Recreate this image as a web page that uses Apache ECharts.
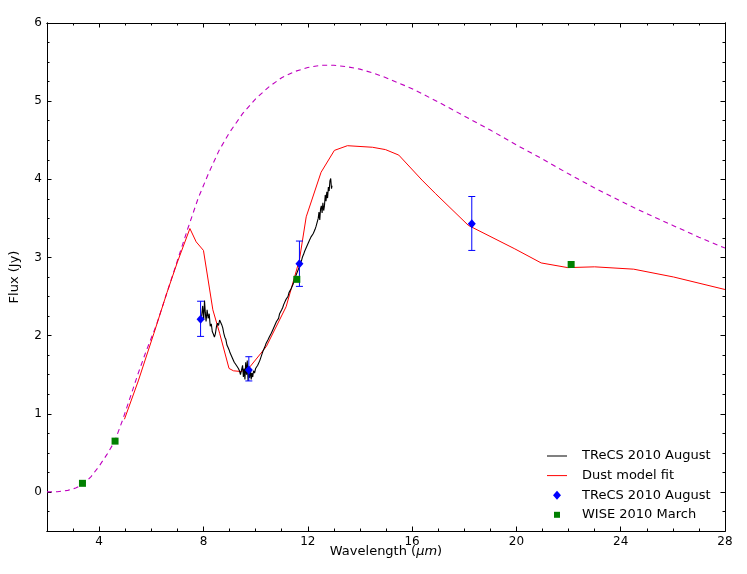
<!DOCTYPE html>
<html>
<head>
<meta charset="utf-8">
<script src="https://cdn.jsdelivr.net/npm/echarts@6/dist/echarts.min.js"></script>
<style>
  html, body { margin: 0; padding: 0; background: #fff; }
  #chart { width: 747px; height: 574px; }
</style>
</head>
<body>
<div id="chart"></div>
<script>
// tick labels
const xMajor = [4, 8, 12, 16, 20, 24, 28];
const yMajor = [0, 1, 2, 3, 4, 5, 6];

// blackbody-like dashed curve [wavelength, flux]
const dashedCurve = [
  [2.0, 0.0], [2.4, 0.003], [2.8, 0.02], [3.1, 0.05], [3.4, 0.10], [3.7, 0.20],
  [4.0, 0.33], [4.3, 0.48], [4.6, 0.65], [4.9, 0.92], [5.2, 1.22], [5.5, 1.52],
  [5.8, 1.80], [6.2, 2.14], [6.6, 2.55], [7.0, 2.96], [7.4, 3.37], [7.8, 3.76],
  [8.2, 4.08], [8.6, 4.37], [9.0, 4.60], [9.5, 4.84], [10.0, 5.03], [10.5, 5.18],
  [11.0, 5.30], [11.5, 5.38], [12.0, 5.43], [12.5, 5.46], [13.0, 5.46], [13.5, 5.44],
  [14.0, 5.41], [14.5, 5.36], [15.0, 5.30], [15.5, 5.23], [16.0, 5.16], [17.0, 4.99],
  [18.0, 4.81], [19.0, 4.63], [20.0, 4.44], [21.0, 4.26], [22.0, 4.07], [23.0, 3.89],
  [24.0, 3.72], [25.0, 3.56], [26.0, 3.41], [27.0, 3.26], [28.0, 3.12]
];

// dust model fit
const dustModel = [
  [4.97, 0.93], [5.5, 1.42], [6.1, 2.03], [6.6, 2.55], [7.0, 2.94], [7.48, 3.37],
  [7.72, 3.20], [8.0, 3.09], [8.36, 2.33], [8.62, 2.03], [8.98, 1.58], [9.15, 1.55],
  [9.45, 1.54], [9.78, 1.60], [10.41, 1.86], [11.17, 2.37], [11.68, 2.97], [11.94, 3.52],
  [12.51, 4.09], [13.02, 4.37], [13.52, 4.43], [14.48, 4.41], [14.98, 4.38], [15.49, 4.31],
  [16.38, 3.99], [16.89, 3.82], [18.16, 3.41], [19.94, 3.11], [20.95, 2.93], [21.97, 2.87],
  [23.0, 2.88], [24.5, 2.85], [26.03, 2.75], [28.0, 2.59]
];

// TReCS spectrum
const trecsSpectrum = [
  [7.93, 2.25], [7.97, 2.38], [8.01, 2.20], [8.04, 2.45], [8.07, 2.30], [8.10, 2.18],
  [8.14, 2.33], [8.18, 2.22], [8.22, 2.28], [8.26, 2.12], [8.30, 2.15], [8.34, 2.05],
  [8.38, 2.02], [8.42, 1.98], [8.46, 2.03], [8.50, 2.12], [8.54, 2.16], [8.58, 2.13],
  [8.62, 2.20], [8.66, 2.18], [8.70, 2.14], [8.74, 2.10], [8.78, 2.03], [8.82, 1.98],
  [8.86, 1.95], [8.90, 1.88], [8.94, 1.85], [8.98, 1.82], [9.02, 1.78], [9.06, 1.76],
  [9.10, 1.72], [9.14, 1.70], [9.18, 1.66], [9.22, 1.66], [9.26, 1.62], [9.30, 1.60],
  [9.34, 1.58], [9.38, 1.55], [9.42, 1.50], [9.46, 1.56], [9.50, 1.62], [9.53, 1.47],
  [9.56, 1.58], [9.59, 1.44], [9.62, 1.66], [9.65, 1.50], [9.68, 1.68], [9.71, 1.42],
  [9.74, 1.55], [9.77, 1.46], [9.80, 1.58], [9.83, 1.44], [9.86, 1.52], [9.89, 1.47],
  [9.92, 1.55], [9.96, 1.52], [10.00, 1.58], [10.04, 1.56], [10.08, 1.62], [10.12, 1.62],
  [10.16, 1.68], [10.20, 1.70], [10.24, 1.76], [10.28, 1.80], [10.32, 1.82], [10.36, 1.86],
  [10.40, 1.90], [10.44, 1.92], [10.48, 1.95], [10.52, 1.98], [10.56, 2.00], [10.60, 2.03],
  [10.64, 2.06], [10.68, 2.07], [10.72, 2.12], [10.76, 2.14], [10.80, 2.18], [10.84, 2.20],
  [10.88, 2.22], [10.92, 2.28], [10.96, 2.27], [11.00, 2.33], [11.04, 2.36], [11.08, 2.40],
  [11.12, 2.42], [11.16, 2.46], [11.20, 2.48], [11.24, 2.50], [11.28, 2.55], [11.32, 2.57],
  [11.36, 2.60], [11.40, 2.62], [11.44, 2.66], [11.48, 2.71], [11.52, 2.73], [11.56, 2.78],
  [11.60, 2.80], [11.64, 2.85], [11.68, 2.88], [11.72, 2.93], [11.76, 2.96], [11.80, 3.01],
  [11.84, 3.04], [11.88, 3.08], [11.92, 3.10], [11.96, 3.14], [12.00, 3.16], [12.04, 3.20],
  [12.08, 3.22], [12.12, 3.26], [12.16, 3.27], [12.20, 3.30], [12.24, 3.33], [12.28, 3.36],
  [12.32, 3.40], [12.36, 3.42], [12.40, 3.50], [12.43, 3.58], [12.46, 3.48], [12.49, 3.62],
  [12.52, 3.66], [12.55, 3.57], [12.58, 3.70], [12.61, 3.60], [12.64, 3.66], [12.67, 3.80],
  [12.70, 3.72], [12.73, 3.84], [12.76, 3.76], [12.79, 3.90], [12.82, 3.85], [12.85, 3.98],
  [12.88, 4.01], [12.91, 3.88], [12.93, 3.92]
];

// TReCS photometry with error bars
const trecsX = [7.89, 9.74, 11.68, 18.29];
const trecsY = [2.21, 1.56, 2.92, 3.43];
const trecsLo = [1.99, 1.42, 2.63, 3.09];
const trecsHi = [2.44, 1.73, 3.21, 3.78];

// WISE photometry
const wiseX = [3.36, 4.61, 11.58, 22.1];
const wiseY = [0.11, 0.65, 2.72, 2.91];

const font = 'DejaVu Sans';
const lineIcon = 'path://M0,0 H20 V1 H0 Z';
const diamondIcon = 'path://M4,0 L8,4.5 L4,9 L0,4.5 Z';
const squareIcon = 'path://M0,0 M9,9 M1.5,1.5 H7.5 V7.5 H1.5 Z';

const chart = echarts.init(document.getElementById('chart'));

const xAxisBase = (pos, labels, tickValues, len) => ({
  type: 'value', min: 2, max: 28, interval: 1, position: pos,
  axisLine: { show: true, onZero: false, lineStyle: { color: '#000', width: 1 } },
  axisTick: tickValues
    ? { inside: true, length: len, customValues: tickValues, lineStyle: { color: '#000' } }
    : { inside: true, length: len, lineStyle: { color: '#000' } },
  axisLabel: labels
    ? { show: true, customValues: xMajor, color: '#000', fontFamily: font, fontSize: 12, margin: 5 }
    : { show: false },
  splitLine: { show: false }
});
const yAxisBase = (pos, labels, tickValues, len) => ({
  type: 'value', min: -0.5, max: 6, interval: 0.25, position: pos,
  axisLine: { show: true, onZero: false, lineStyle: { color: '#000', width: 1 } },
  axisTick: tickValues
    ? { inside: true, length: len, customValues: tickValues, lineStyle: { color: '#000' } }
    : { inside: true, length: len, lineStyle: { color: '#000' } },
  axisLabel: labels
    ? { show: true, customValues: yMajor, color: '#000', fontFamily: font, fontSize: 12, margin: 5 }
    : { show: false },
  splitLine: { show: false }
});

const xBottom = xAxisBase('bottom', true, null, 2.5);
xBottom.name = 'Wavelength ({it|μm})';
xBottom.nameLocation = 'middle';
xBottom.nameGap = 14;
xBottom.nameMoveOverlap = false;
xBottom.nameTextStyle = { color: '#000', fontFamily: font, fontSize: 13, rich: { it: { fontStyle: 'italic', fontFamily: font, fontSize: 13 } } };

const yLeft = yAxisBase('left', true, null, 2.5);
yLeft.name = 'Flux (Jy)';
yLeft.nameLocation = 'middle';
yLeft.nameGap = 26;
yLeft.nameMoveOverlap = false;
yLeft.nameTextStyle = { color: '#000', fontFamily: font, fontSize: 13 };

function renderErr(params, api) {
  const x = api.value(0);
  const pHi = api.coord([x, api.value(2)]);
  const pLo = api.coord([x, api.value(1)]);
  const w = 3.5;
  const style = { stroke: '#0000ff', lineWidth: 1 };
  return {
    type: 'group',
    children: [
      { type: 'line', shape: { x1: pHi[0], y1: pHi[1], x2: pLo[0], y2: pLo[1] }, style },
      { type: 'line', shape: { x1: pHi[0] - w, y1: pHi[1], x2: pHi[0] + w, y2: pHi[1] }, style },
      { type: 'line', shape: { x1: pLo[0] - w, y1: pLo[1], x2: pLo[0] + w, y2: pLo[1] }, style }
    ]
  };
}

const option = {
  backgroundColor: '#fff',
  animation: false,
  grid: { left: 43, right: 22, top: 23, bottom: 43, containLabel: false },
  xAxis: [
    xBottom,
    xAxisBase('top', false, null, 2.5),
    xAxisBase('bottom', false, xMajor, 4.5),
    xAxisBase('top', false, xMajor, 4.5)
  ],
  yAxis: [
    yLeft,
    yAxisBase('right', false, null, 2.5),
    yAxisBase('left', false, yMajor, 4.5),
    yAxisBase('right', false, yMajor, 4.5)
  ],
  legend: {
    orient: 'vertical',
    left: 547,
    top: 448,
    padding: 0,
    itemWidth: 20,
    itemHeight: 9,
    itemGap: 3.6,
    symbolKeepAspect: true,
    textStyle: { color: '#000', fontFamily: font, fontSize: 13, lineHeight: 16, padding: [0, 0, 0, 10] },
    data: [
      { name: 'TReCS 2010 August', icon: lineIcon, itemStyle: { color: '#000' } },
      { name: 'Dust model fit', icon: lineIcon, itemStyle: { color: '#ff0000' } },
      { name: 'TReCS 2010 August ', icon: diamondIcon },
      { name: 'WISE 2010 March', icon: squareIcon }
    ]
  },
  series: [
    {
      name: 'Blackbody', type: 'line', data: dashedCurve, symbol: 'none', smooth: false,
      lineStyle: { color: '#bf00bf', width: 1.1, type: [5, 4] }, z: 2
    },
    {
      name: 'Dust model fit', type: 'line', data: dustModel, symbol: 'none',
      lineStyle: { color: '#ff0000', width: 1 }, itemStyle: { color: '#ff0000' }, z: 3
    },
    {
      name: 'TReCS 2010 August', type: 'line', data: trecsSpectrum, symbol: 'none',
      lineStyle: { color: '#000', width: 1.1 }, itemStyle: { color: '#000' }, z: 4
    },
    {
      name: 'errors', type: 'custom', renderItem: renderErr,
      data: trecsX.map((x, i) => [x, trecsLo[i], trecsHi[i]]),
      encode: { x: 0, y: [1, 2] }, z: 5
    },
    {
      name: 'TReCS 2010 August ', type: 'scatter', symbol: 'diamond', symbolSize: [8, 9],
      data: trecsX.map((x, i) => [x, trecsY[i]]),
      itemStyle: { color: '#0000ff', opacity: 1 }, z: 6
    },
    {
      name: 'WISE 2010 March', type: 'scatter', symbol: 'rect', symbolSize: 7,
      data: wiseX.map((x, i) => [x, wiseY[i]]),
      itemStyle: { color: '#008000', opacity: 1 }, z: 6
    }
  ]
};

chart.setOption(option);
</script>
</body>
</html>
